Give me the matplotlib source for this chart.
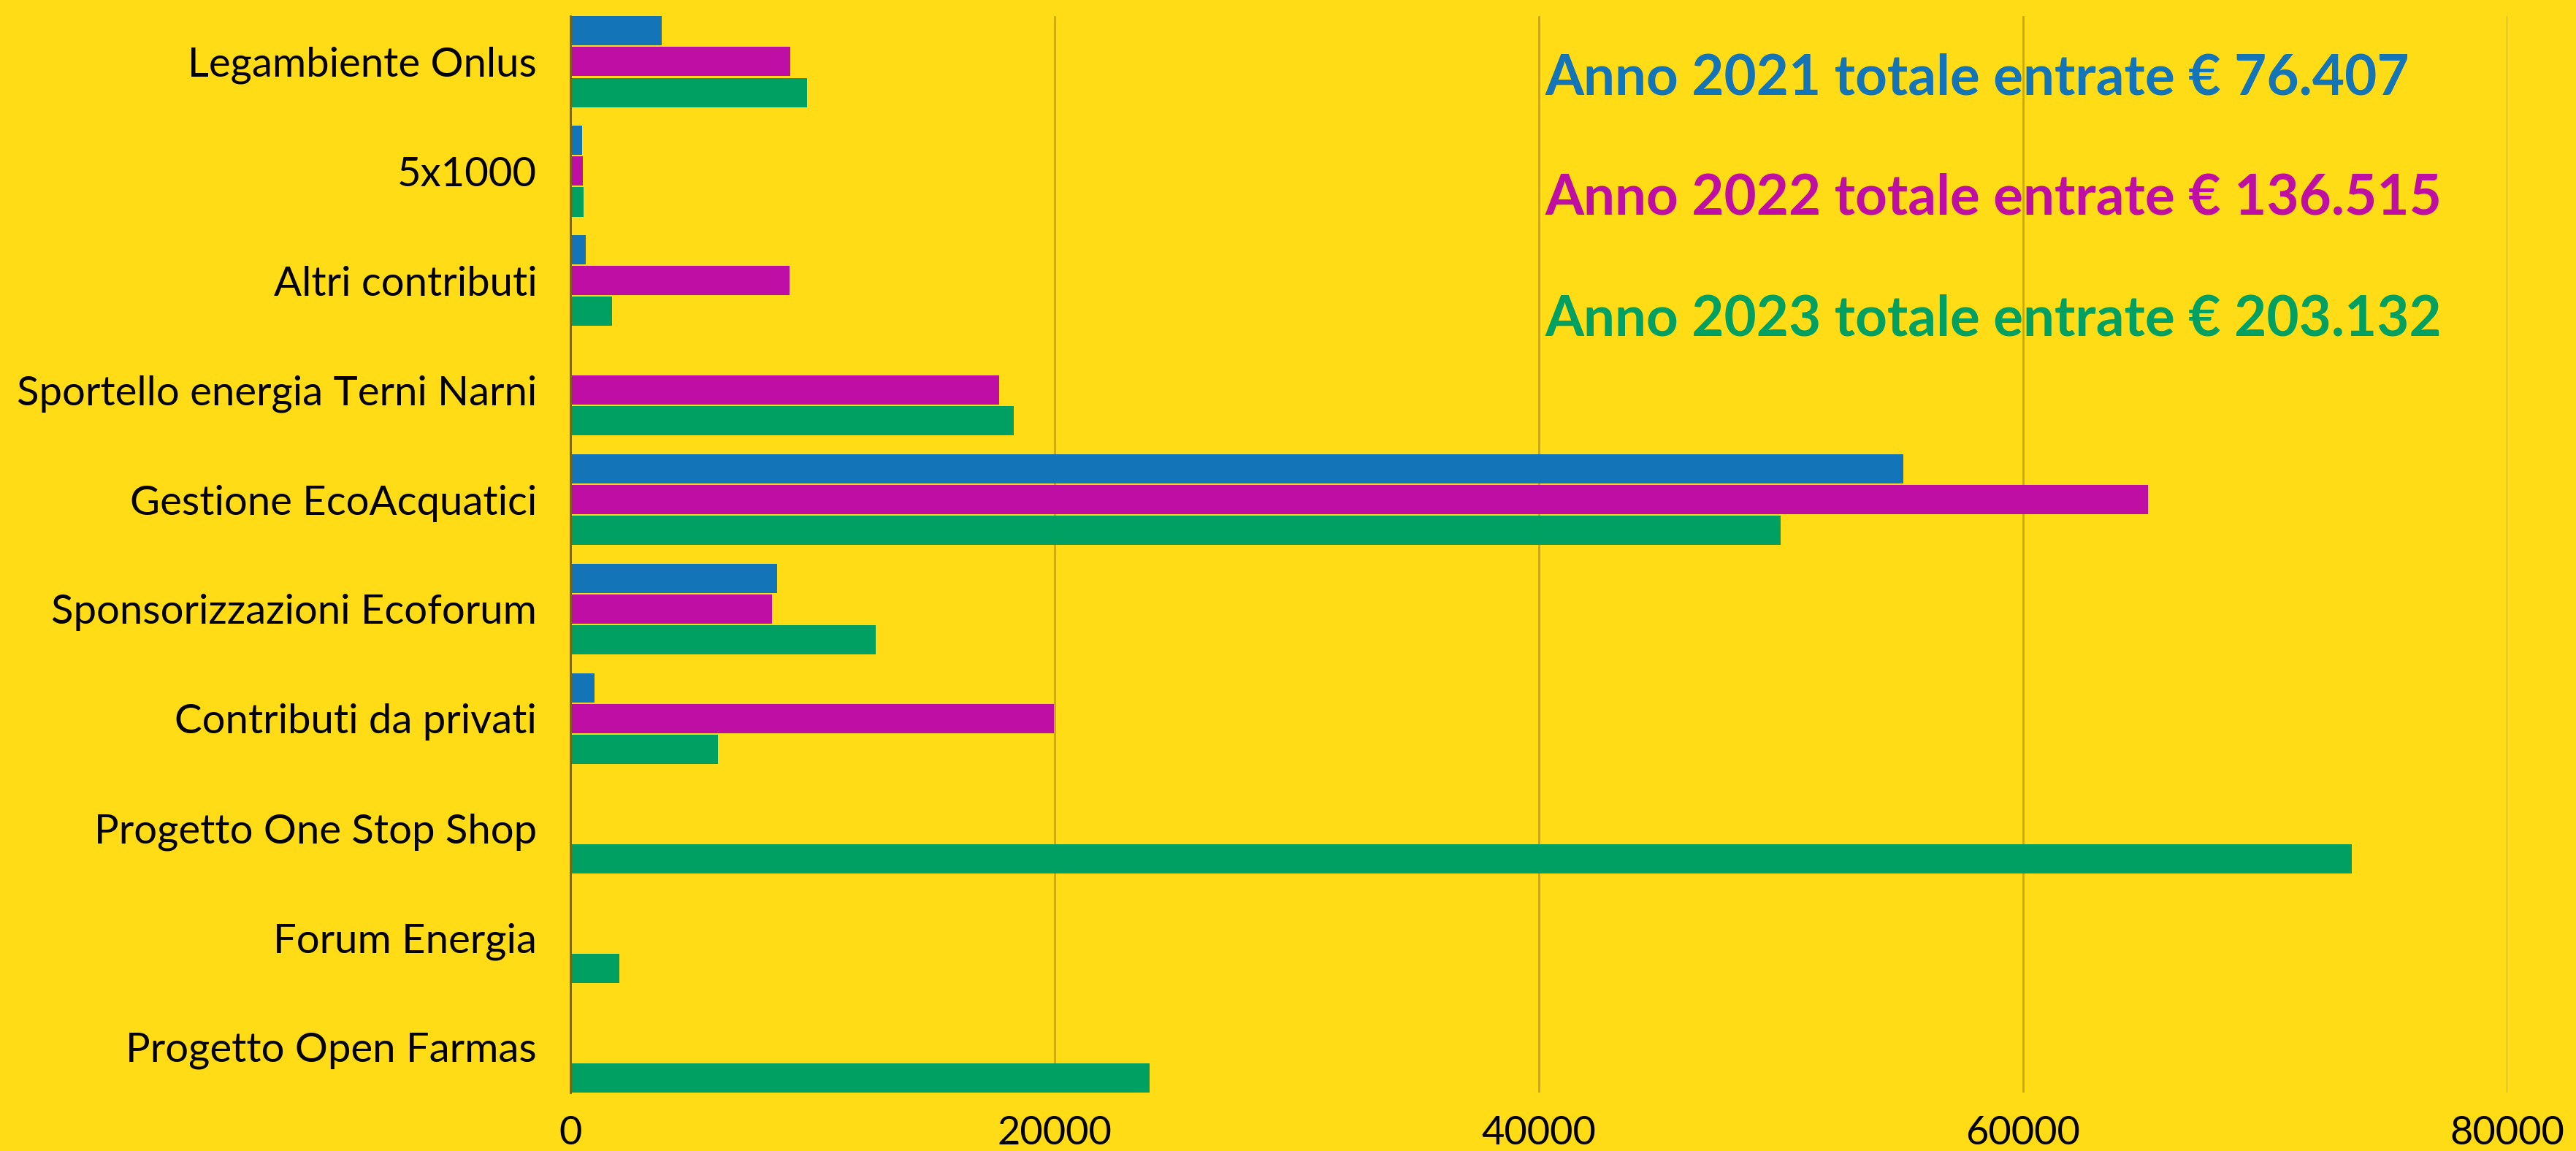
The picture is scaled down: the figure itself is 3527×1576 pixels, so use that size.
import matplotlib
matplotlib.use("Agg")
import matplotlib.pyplot as plt
import numpy as np

categories = ["Legambiente Onlus", "5x1000", "Altri contributi",
              "Sportello energia Terni Narni", "Gestione EcoAcquatici",
              "Sponsorizzazioni Ecoforum", "Contributi da privati",
              "Progetto One Stop Shop", "Forum Energia", "Progetto Open Farmas"]
v2021 = [3770, 480, 640, 0, 55050, 8540, 1000, 0, 0, 0]
v2022 = [9070, 510, 9050, 17700, 65150, 8330, 19970, 0, 0, 0]
v2023 = [9770, 530, 1710, 18300, 49970, 12600, 6100, 73560, 2030, 23930]
totals = ["Anno 2021 totale entrate \u20ac 76.407",
          "Anno 2022 totale entrate \u20ac 136.515",
          "Anno 2023 totale entrate \u20ac 203.132"]
xticks = [0, 20000, 40000, 60000, 80000]

BG = "#ffdc16"
COLORS = ["#1474b8", "#bf0ea4", "#00a062"]

W, H, DPI = 3527, 1576, 100
fig = plt.figure(figsize=(W / DPI, H / DPI), dpi=DPI, facecolor=BG)
ax = fig.add_axes([781 / W, 80 / H, (3433 - 781) / W, (1496 - 22) / H])
ax.set_facecolor(BG)

y = np.arange(len(categories))
h, step = 0.267, 0.282
for k, vals in enumerate([v2021, v2022, v2023]):
    ax.barh(y + (k - 1) * step, vals, height=h, color=COLORS[k],
            linewidth=0, zorder=3)

ax.set_ylim(9 + step + h / 2, -step - h / 2)
ax.set_xlim(0, 80000)
ax.set_xticks(xticks)
ax.set_xticklabels([str(t) for t in xticks], family="Lato", fontsize=39)
ax.set_yticks(y)
ax.set_yticklabels(categories, family="Lato", fontsize=40.5)
ax.tick_params(axis="both", length=0)
ax.tick_params(axis="y", pad=33)
ax.tick_params(axis="x", pad=22)
ax.grid(axis="x", color="#c8a814", linewidth=2, zorder=0)
for s in ["top", "right", "bottom"]:
    ax.spines[s].set_visible(False)
ax.spines["left"].set_color("#7a6400")
ax.spines["left"].set_linewidth(2)
ax.spines["left"].set_zorder(4)

for k, txt in enumerate(totals):
    fig.text(2115 / W, 1 - (129 + 165 * k) / H, txt, color=COLORS[k],
             family="Lato", fontweight="bold", fontsize=55,
             ha="left", va="baseline")

fig.savefig("out.png", dpi=DPI, facecolor=BG)
